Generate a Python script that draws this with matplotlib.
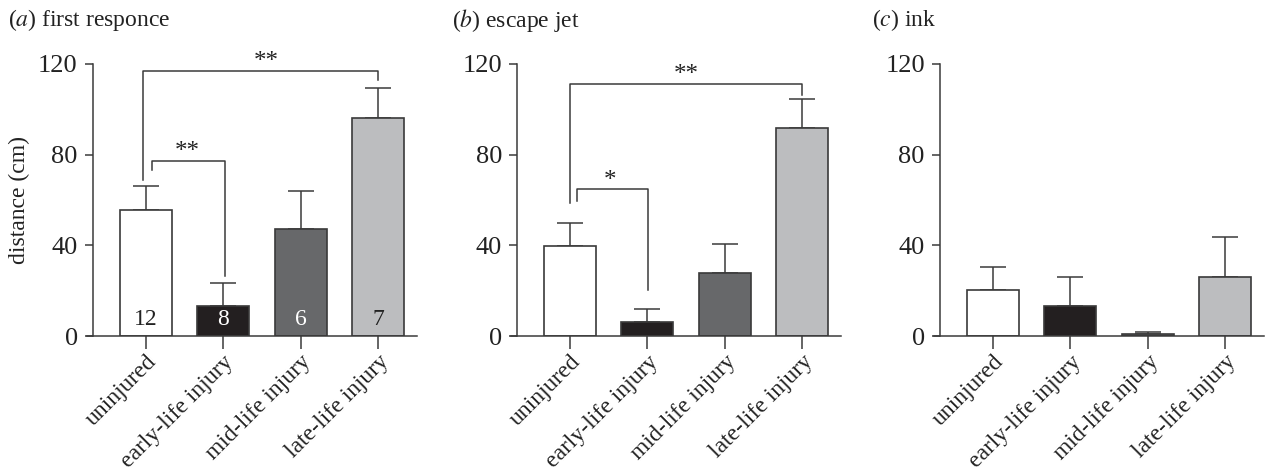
import matplotlib
matplotlib.use("Agg")
import matplotlib.pyplot as plt

plt.rcParams['font.family'] = ['Liberation Serif', 'DejaVu Serif']

groups = ['uninjured', 'early-life injury', 'mid-life injury', 'late-life injury']
colors = ['#ffffff', '#231f20', '#67686a', '#bcbdbf']

first_mean = [55.6, 13.2, 47.0, 96.3]
first_err = [10.7, 10.3, 17.1, 13.2]
escape_mean = [39.7, 6.2, 27.6, 91.8]
escape_err = [10.3, 5.9, 12.8, 12.8]
ink_mean = [20.4, 13.2, 1.0, 26.1]
ink_err = [10.1, 12.9, 0.6, 17.7]

n_labels = ['12', '8', '6', '7']
n_colors = ['#222222', 'white', 'white', '#222222']

titles = [('a', 'first responce'), ('b', 'escape jet'), ('c', 'ink')]

# brackets: (x_left, y_left_end, x_right, y_right_end, y_top, text, text_x, text_y)
brackets_a = [(-0.04, 68.8, 2.995, 112.9, 117.0, '**', 1.55, 121.0),
              (0.08, 73.2, 1.02, 26.5, 77.2, '**', 0.54, 81.0)]
brackets_b = [(0.0, 58.8, 3.0, 106.5, 111.2, '**', 1.5, 115.3),
              (0.09, 59.5, 1.01, 20.1, 64.7, '*', 0.52, 68.5)]

line_col = '#3a3a3a'
fig = plt.figure(figsize=(12.71, 4.70), dpi=100)

lefts = [0.0683, 0.4021, 0.7348]
data = [(first_mean, first_err), (escape_mean, escape_err), (ink_mean, ink_err)]
all_brackets = [brackets_a, brackets_b, []]

for k in range(3):
    ax = fig.add_axes([lefts[k], 0.285, 0.2597, 0.579])
    mean, err = data[k]
    x = list(range(4))
    ax.bar(x, mean, width=0.67, color=colors, edgecolor=line_col, linewidth=1.2,
           zorder=2)
    ax.errorbar(x, mean, yerr=[[0] * 4, err], fmt='none', ecolor=line_col,
                elinewidth=1.1, capsize=9.5, capthick=1.1, zorder=1)
    ax.set_xlim(-0.76, 3.5)
    ax.set_ylim(0, 120)
    ax.spines['top'].set_visible(False)
    ax.spines['right'].set_visible(False)
    ax.spines['left'].set_position(('data', -0.68))
    for s in ('left', 'bottom'):
        ax.spines[s].set_color(line_col)
        ax.spines[s].set_linewidth(1.1)
    ax.set_yticks([0, 40, 80, 120])
    ax.set_xticks(x)
    ax.set_xticklabels(groups, rotation=45, ha='right', rotation_mode='anchor',
                       fontsize=17, color='#222222')
    ax.tick_params(axis='x', length=9, width=1.1, color=line_col, pad=2)
    ax.tick_params(axis='y', length=6, width=1.1, color=line_col, pad=5,
                   labelsize=19, labelcolor='#222222')
    for (xl, yl, xr, yr, yt, txt, tx, ty) in all_brackets[k]:
        ax.plot([xl, xl, xr, xr], [yl, yt, yt, yr], color=line_col, lw=1.1,
                clip_on=False, zorder=3)
        ax.text(tx, ty, txt, ha='center', va='center', fontsize=18,
                color='#222222', clip_on=False)
    if k == 0:
        ax.set_ylabel('distance (cm)', fontsize=17, color='#222222', labelpad=6)
        for i in range(4):
            ax.text(i, 7.5, n_labels[i], ha='center', va='center', fontsize=17,
                    color=n_colors[i], zorder=4)
    letter, name = titles[k]
    fx = [8, 452, 872][k] / 1271
    fig.text(fx, 1 - 20 / 470, '(' + '$\\it{' + letter + '}$' + ') ' + name,
             fontsize=17, va='center', ha='left', color='#222222',
             math_fontfamily='stix')

fig.savefig('out.png', dpi=100)
